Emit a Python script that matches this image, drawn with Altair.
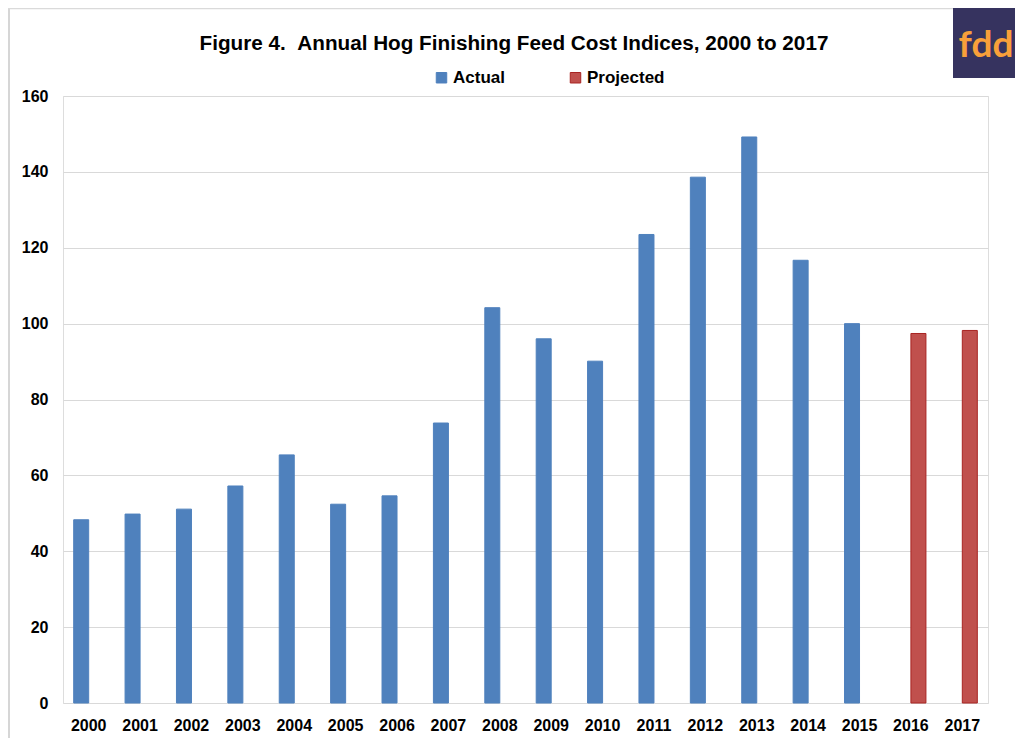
import altair as alt
import pandas as pd

# ---- data ----
actual_years = [str(y) for y in range(2000, 2016)]
actual_values = [48.3, 49.8, 51.1, 57.2, 65.4, 52.4, 54.6, 73.8, 104.2, 96.0,
                 90.1, 123.5, 138.6, 149.2, 116.7, 100.0]
projected_years = ["2016", "2017"]
projected_values = [97.4, 98.2]
all_years = [str(y) for y in range(2000, 2018)]
series_names = ["Actual", "Projected"]
fill_colors = ["#4F81BD", "#C0504D"]
stroke_colors = ["#4F81BD", "#A82422"]
y_tick_values = [0, 20, 40, 60, 80, 100, 120, 140, 160]
title_text = "Figure 4.\u00a0\u00a0Annual Hog Finishing Feed Cost Indices, 2000 to 2017"
logo_text = "fdd"

rows = [{"year": y, "series": "Actual", "value": v} for y, v in zip(actual_years, actual_values)]
rows += [{"year": y, "series": "Projected", "value": v} for y, v in zip(projected_years, projected_values)]
df = pd.DataFrame(rows)

W, H = 925, 607
FONT = "Liberation Sans"

legend_cfg = dict(title=None, orient="none", direction="horizontal",
                  legendX=370, legendY=-27, symbolType="square",
                  symbolSize=110, symbolStrokeWidth=1,
                  labelFont=FONT, labelFontSize=17, labelFontWeight="bold",
                  labelColor="#000000", labelOffset=3, columnPadding=62)

bars = alt.Chart(df).mark_bar(strokeWidth=1).encode(
    x=alt.X("year:N", sort=all_years,
            scale=alt.Scale(domain=all_years, paddingInner=0.416, paddingOuter=0.208),
            axis=alt.Axis(title=None, labelAngle=0, ticks=False, domain=False, grid=False,
                          labelFont=FONT, labelFontSize=16, labelFontWeight="bold",
                          labelColor="#000000", labelPadding=14)),
    xOffset=alt.XOffset("series:N", scale=alt.Scale(domain=series_names, paddingInner=0, paddingOuter=0)),
    y=alt.Y("value:Q", scale=alt.Scale(domain=[0, 160], nice=False),
            axis=alt.Axis(title=None, values=y_tick_values, ticks=False, domain=False,
                          grid=True, gridColor="#D9D9D9", gridWidth=1,
                          labelFont=FONT, labelFontSize=16, labelFontWeight="bold",
                          labelColor="#000000", labelPadding=15)),
    fill=alt.Fill("series:N", scale=alt.Scale(domain=series_names, range=fill_colors),
                  legend=alt.Legend(**legend_cfg)),
    stroke=alt.Stroke("series:N", scale=alt.Scale(domain=series_names, range=stroke_colors),
                      legend=alt.Legend(**legend_cfg)),
)

one = pd.DataFrame({"t": [title_text], "logo": [logo_text]})

frame_left = alt.Chart(one).mark_rule(stroke="#C8C8C8", strokeWidth=1.5).encode(
    x=alt.value(-54), y=alt.value(-88), y2=alt.value(700)
)
frame_top = alt.Chart(one).mark_rule(stroke="#DADADA", strokeWidth=1.5).encode(
    x=alt.value(-55), x2=alt.value(1000), y=alt.value(-87.5)
)

title = alt.Chart(one).mark_text(font=FONT, fontSize=20.7, fontWeight="bold", color="#000000",
                                 align="center", baseline="alphabetic").encode(
    x=alt.value(451), y=alt.value(-46.5), text="t:N"
)

logo_bg = alt.Chart(one).mark_rect(fill="#36335F").encode(
    x=alt.value(890), x2=alt.value(980), y=alt.value(-88), y2=alt.value(-18)
)
logo_txt = alt.Chart(one).mark_text(font="Lato", fontSize=37, fontWeight="bold", color="#F8A03A",
                                    align="center", baseline="alphabetic").encode(
    x=alt.value(923), y=alt.value(-39), text="logo:N"
)

chart = alt.layer(frame_left, frame_top, bars, title, logo_bg, logo_txt).properties(
    width=W, height=H,
    autosize=alt.AutoSizeParams(type="none"),
    padding={"left": 55, "top": 88, "right": 27, "bottom": 35},
).configure_view(stroke=None).configure(background="#FFFFFF")

chart.save("out.html", embed_options={"renderer": "svg", "actions": False})
